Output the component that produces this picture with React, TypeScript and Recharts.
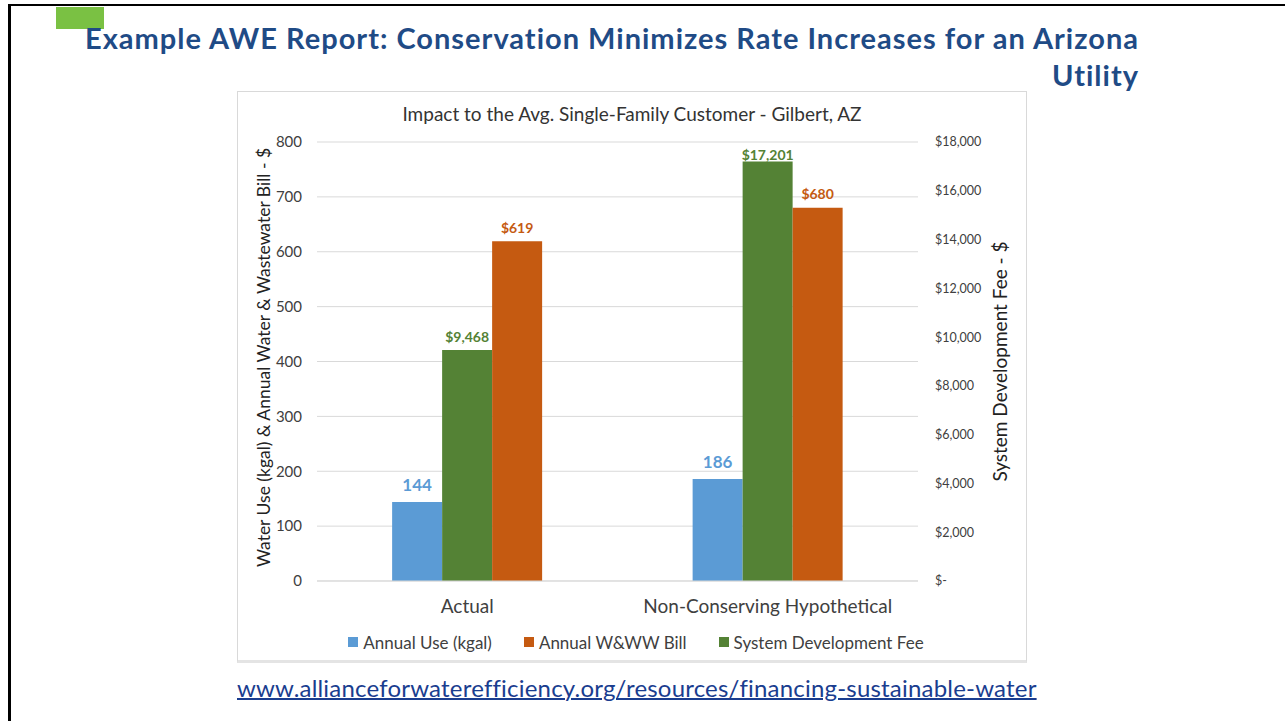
import React from "react";
import {
  BarChart,
  Bar,
  XAxis,
  YAxis,
  CartesianGrid,
  Legend,
  LabelList,
  Label,
} from "recharts";

const categories = ["Actual", "Non-Conserving Hypothetical"];
const annualUse = [144, 186];
const annualBill = [619, 680];
const devFee = [9468, 17201];

const leftTicks = [0, 100, 200, 300, 400, 500, 600, 700, 800];
const rightTicks = [0, 2000, 4000, 6000, 8000, 10000, 12000, 14000, 16000, 18000];

const legendOrder = ["use", "bill", "fee"];

const data = categories.map((name, i) => ({
  name,
  use: annualUse[i],
  bill: annualBill[i],
  fee: devFee[i],
}));

const FONT = "Lato, Carlito, sans-serif";
const BLUE = "#5B9BD5";
const ORANGE = "#C55A11";
const GREEN = "#548235";
const GRID = "#d9d9d9";
const TEXT = "#404040";

const money = (v: number) => "$" + v.toLocaleString("en-US");

// label drawn above each bar, kept inside the plot at the top
const barLabel =
  (color: string, size: number, fmt: (v: number) => string, minY = 0) =>
  (props: any) => {
    const { x, y, width, value } = props;
    return (
      <text
        x={x + width / 2}
        y={Math.max(y - size, minY)}
        textAnchor="middle"
        dominantBaseline="central"
        fill={color}
        fontSize={size}
        fontWeight={700}
        fontFamily={FONT}
      >
        {fmt(value)}
      </text>
    );
  };

const renderLegend = (props: any) => {
  const items = [...(props.payload || [])].sort(
    (a: any, b: any) =>
      legendOrder.indexOf(a.dataKey) - legendOrder.indexOf(b.dataKey)
  );
  return (
    <div
      style={{
        display: "flex",
        justifyContent: "center",
        alignItems: "center",
        height: 20,
        fontFamily: FONT,
        fontSize: 17,
        color: TEXT,
        paddingLeft: 8,
      }}
    >
      {items.map((it: any) => (
        <div
          key={it.dataKey}
          style={{ display: "flex", alignItems: "center", margin: "0 16px" }}
        >
          <span
            style={{
              width: 10,
              height: 10,
              background: it.color,
              marginRight: 5,
              display: "inline-block",
            }}
          />
          {it.value}
        </div>
      ))}
    </div>
  );
};

export default function App() {
  return (
    <div
      style={{
        position: "absolute",
        left: 0,
        top: 0,
        width: 1285,
        height: 721,
        overflow: "hidden",
        background: "#fff",
        fontFamily: FONT,
      }}
    >
      {/* slide frame */}
      <div
        style={{
          position: "absolute",
          left: 8,
          top: 4,
          width: 1400,
          height: 800,
          borderLeft: "3px solid #000",
          borderTop: "2px solid #000",
        }}
      />
      <div
        style={{
          position: "absolute",
          left: 56,
          top: 7,
          width: 48,
          height: 22,
          background: "#7AC143",
        }}
      />
      <div
        style={{
          position: "absolute",
          left: 0,
          top: 19,
          width: 1139,
          textAlign: "right",
          fontSize: 29,
          fontWeight: 700,
          lineHeight: "37px",
          color: "#1F4B86",
          letterSpacing: 1,
          whiteSpace: "nowrap",
        }}
      >
        Example AWE Report: Conservation Minimizes Rate Increases for an Arizona
        <br />
        Utility
      </div>

      {/* chart box */}
      <div
        style={{
          position: "absolute",
          left: 237,
          top: 91,
          width: 790,
          height: 572,
          boxSizing: "border-box",
          border: "1px solid " + GRID,
          borderBottom: "3px solid #e4e4e4",
        }}
      />
      <div
        style={{
          position: "absolute",
          left: 237,
          top: 103,
          width: 790,
          textAlign: "center",
          fontSize: 19,
          color: "#333",
          lineHeight: "22px",
        }}
      >
        Impact to the Avg. Single-Family Customer - Gilbert, AZ
      </div>
      <div style={{ position: "absolute", left: 237, top: 91 }}>
        <BarChart
          width={790}
          height={572}
          data={data}
          margin={{ top: 51, right: 19, left: 20, bottom: 32 }}
          barCategoryGap="25%"
          barGap={0}
        >
          <CartesianGrid
            yAxisId="left"
            vertical={false}
            stroke={GRID}
            strokeWidth={1}
          />
          <XAxis
            dataKey="name"
            height={30}
            tickLine={false}
            axisLine={{ stroke: GRID }}
            tickMargin={13}
            tick={{ fontSize: 19, fill: TEXT, fontFamily: FONT }}
          />
          <YAxis
            yAxisId="left"
            orientation="left"
            width={60}
            domain={[0, 800]}
            ticks={leftTicks}
            tickLine={false}
            axisLine={false}
            tickSize={6}
            tickMargin={9}
            tick={{ fontSize: 15, fill: TEXT, fontFamily: FONT }}
          >
            <Label
              value="Water Use (kgal) & Annual Water & Wastewater Bill - $"
              angle={-90}
              position="center"
              dx={-23}
              dy={-4}
              style={{ fontSize: 17.5, fill: "#222", fontFamily: FONT, textAnchor: "middle" }}
            />
          </YAxis>
          <YAxis
            yAxisId="right"
            orientation="right"
            width={90}
            domain={[0, 18000]}
            ticks={rightTicks}
            tickLine={false}
            axisLine={false}
            tickSize={6}
            tickMargin={11}
            tickFormatter={(v: number) => (v === 0 ? "$-" : money(v))}
            tick={{ fontSize: 12.5, fill: TEXT, fontFamily: FONT, textAnchor: "start" }}
          >
            <Label
              value="System Development Fee - $"
              angle={-90}
              position="center"
              dx={37}
              style={{ fontSize: 19, fill: "#222", fontFamily: FONT, textAnchor: "middle" }}
            />
          </YAxis>
          <Legend
            verticalAlign="bottom"
            content={renderLegend}
            wrapperStyle={{ top: 541, left: 0, width: 790, height: 20 }}
          />
          <Bar
            yAxisId="left"
            dataKey="use"
            name="Annual Use (kgal)"
            fill={BLUE}
            isAnimationActive={false}
          >
            <LabelList dataKey="use" content={barLabel(BLUE, 17, (v) => String(v))} />
          </Bar>
          <Bar
            yAxisId="right"
            dataKey="fee"
            name="System Development Fee"
            fill={GREEN}
            isAnimationActive={false}
          >
            <LabelList dataKey="fee" content={barLabel(GREEN, 14, money, 63)} />
          </Bar>
          <Bar
            yAxisId="left"
            dataKey="bill"
            name="Annual W&WW Bill"
            fill={ORANGE}
            isAnimationActive={false}
          >
            <LabelList dataKey="bill" content={barLabel(ORANGE, 14, money)} />
          </Bar>
        </BarChart>
      </div>

      <div
        style={{
          position: "absolute",
          left: 237,
          top: 674,
          fontSize: 24,
          lineHeight: "28px",
          color: "#1A3D8F",
          letterSpacing: 0.2,
          textDecoration: "underline",
          textDecorationThickness: 2,
          whiteSpace: "nowrap",
        }}
      >
        www.allianceforwaterefficiency.org/resources/financing-sustainable-water
      </div>
    </div>
  );
}
